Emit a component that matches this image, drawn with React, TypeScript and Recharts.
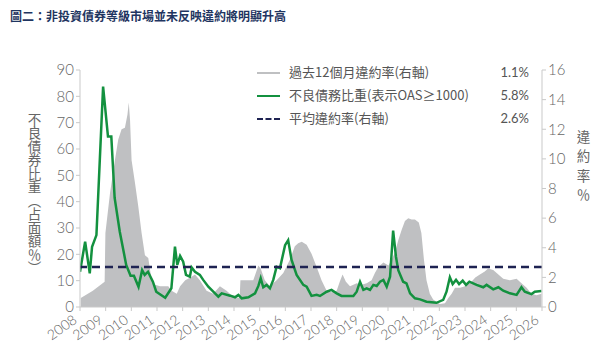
import React from 'react';
import { ComposedChart, Area, Line, XAxis, YAxis, ReferenceLine } from 'recharts';

const defaultYears = [2008.03, 2008.5, 2008.96, 2008.99, 2009.17, 2009.36, 2009.49, 2009.62, 2009.75, 2009.85, 2009.9, 2009.95, 2010.01, 2010.14, 2010.27, 2010.4, 2010.53, 2010.66, 2010.79, 2010.92, 2011.12, 2011.44, 2011.57, 2011.77, 2011.9, 2012.1, 2012.3, 2012.48, 2012.67, 2012.93, 2013.19, 2013.45, 2013.71, 2013.97, 2014.22, 2014.25, 2014.49, 2014.75, 2014.95, 2015.04, 2015.2, 2015.4, 2015.66, 2015.92, 2016.18, 2016.37, 2016.5, 2016.64, 2016.83, 2017.02, 2017.22, 2017.41, 2017.61, 2017.8, 2018.0, 2018.12, 2018.23, 2018.36, 2018.52, 2018.78, 2018.97, 2019.17, 2019.36, 2019.49, 2019.62, 2019.82, 2020.02, 2020.15, 2020.27, 2020.4, 2020.53, 2020.66, 2020.79, 2020.92, 2021.05, 2021.2, 2021.3, 2021.4, 2021.5, 2021.63, 2021.76, 2022.02, 2022.22, 2022.35, 2022.48, 2022.61, 2022.81, 2023.0, 2023.2, 2023.4, 2023.58, 2023.77, 2023.9, 2024.1, 2024.3, 2024.49, 2024.75, 2025.01, 2025.2, 2025.4, 2025.59, 2025.79, 2025.98];
const defaultRate = [0.6, 1.1, 1.7, 5.0, 7.7, 9.9, 11.3, 12.0, 12.1, 13.0, 13.8, 12.6, 9.9, 8.4, 6.8, 5.0, 3.5, 3.3, 1.8, 1.5, 1.4, 1.4, 1.1, 0.9, 1.4, 1.8, 2.0, 2.2, 1.8, 1.1, 0.9, 1.4, 1.1, 0.7, 0.6, 1.8, 1.8, 1.8, 2.8, 2.6, 1.8, 1.4, 1.8, 2.3, 3.2, 4.1, 4.3, 4.4, 4.2, 3.6, 2.7, 1.8, 1.1, 1.0, 1.1, 1.7, 2.2, 1.7, 1.4, 1.6, 1.5, 1.6, 1.8, 2.3, 2.7, 3.0, 2.8, 3.2, 3.7, 4.5, 5.2, 5.8, 6.0, 5.9, 5.9, 5.7, 5.0, 3.2, 1.8, 0.9, 0.5, 0.2, 0.25, 0.6, 0.9, 1.3, 1.3, 1.4, 1.6, 2.0, 2.2, 2.4, 2.6, 2.5, 2.2, 1.9, 1.8, 1.9, 1.6, 1.3, 0.9, 0.8, 0.9];

const distressYears = [2008.0, 2008.2, 2008.38, 2008.47, 2008.64, 2008.9, 2009.09, 2009.22, 2009.35, 2009.55, 2009.8, 2009.97, 2010.1, 2010.28, 2010.42, 2010.52, 2010.65, 2010.84, 2010.97, 2011.32, 2011.56, 2011.7, 2011.79, 2011.9, 2012.02, 2012.13, 2012.28, 2012.35, 2012.48, 2012.67, 2012.8, 2013.0, 2013.26, 2013.39, 2013.52, 2013.85, 2014.04, 2014.17, 2014.3, 2014.56, 2014.82, 2014.95, 2015.04, 2015.14, 2015.27, 2015.4, 2015.53, 2015.66, 2015.79, 2015.99, 2016.11, 2016.24, 2016.44, 2016.7, 2016.83, 2017.02, 2017.22, 2017.35, 2017.61, 2017.8, 2018.0, 2018.19, 2018.65, 2018.78, 2018.91, 2019.04, 2019.17, 2019.3, 2019.43, 2019.56, 2019.69, 2019.82, 2019.95, 2020.08, 2020.2, 2020.31, 2020.4, 2020.59, 2020.72, 2020.86, 2021.05, 2021.25, 2021.5, 2021.89, 2022.15, 2022.28, 2022.41, 2022.52, 2022.65, 2022.77, 2022.91, 2023.04, 2023.17, 2023.45, 2023.71, 2023.84, 2024.1, 2024.3, 2024.49, 2024.75, 2025.01, 2025.2, 2025.33, 2025.59, 2025.72, 2025.98];
const distressRatio = [13.4, 24.8, 12.8, 22.9, 27.3, 83.7, 64.7, 64.7, 41.4, 28.6, 16, 11.9, 11.9, 7.7, 14, 12.2, 13.4, 9.6, 5.8, 3.5, 7.1, 22.9, 16, 19.4, 17.2, 12.2, 11.5, 15, 13.4, 12.2, 10.3, 7.7, 5.2, 3.9, 5.2, 4.3, 3.7, 4.6, 3.3, 3.7, 5.2, 8, 10.9, 7.5, 8.4, 7.1, 10.3, 15.3, 14.7, 23.5, 25.4, 18, 12.2, 8.4, 7.7, 4.2, 4.6, 4.2, 5.8, 6.5, 5.2, 4.2, 4.2, 5.8, 9.6, 6.5, 7.1, 6.5, 8.4, 8, 9.6, 10.3, 7.7, 11.5, 29, 19.1, 14, 9.6, 9, 5.2, 3.3, 2.9, 2.0, 1.6, 2.7, 5.8, 11.3, 8.7, 10.3, 8.7, 10, 8.4, 9.6, 8.4, 7.5, 8.4, 6.7, 7.5, 6.2, 5.2, 4.6, 7.5, 5.8, 4.9, 5.8, 6.1];

const averageDefault = 2.7;
const yearTicks = [2008, 2009, 2010, 2011, 2012, 2013, 2014, 2015, 2016, 2017, 2018, 2019, 2020, 2021, 2022, 2023, 2024, 2025, 2026];
const leftTicks = [0, 10, 20, 30, 40, 50, 60, 70, 80, 90];
const rightTicks = [0, 2, 4, 6, 8, 10, 12, 14, 16];

const legendLabels = ['過去12個月違約率(右軸)', '不良債務比重(表示OAS≥1000)', '平均違約率(右軸)'];
const legendValues = ['1.1%', '5.8%', '2.6%'];

const title = '圖二：非投資債券等級市場並未反映違約將明顯升高';
const leftLabel = '不良債券比重（占面額％）';
const rightLabel = '違約率％';

const rowMap = new Map<number, any>();
defaultYears.forEach((y, i) => {
  rowMap.set(y, { ...(rowMap.get(y) || { x: y }), g: defaultRate[i] });
});
distressYears.forEach((y, i) => {
  rowMap.set(y, { ...(rowMap.get(y) || { x: y }), d: distressRatio[i] });
});
const data = Array.from(rowMap.values()).sort((a, b) => a.x - b.x);

const GRAY = '#bfc0c2';
const GREEN = '#13913f';
const NAVY = '#1e2352';
const AXIS = '#c9c9c9';
const TICKTEXT = '#666666';
const FONT = 'Lato, "Noto Sans", sans-serif';
const CJK = '"Noto Sans CJK TC", "Noto Sans CJK SC", sans-serif';

const XTick = (props: any) => {
  const { x, y, payload } = props;
  return (
    <g transform={`translate(${x - 2},${y + 9})`}>
      <text x={0} y={0} textAnchor="end" transform="rotate(-35)" fill={TICKTEXT} fontSize={14} fontFamily={FONT} fontWeight={300}>
        {payload.value}
      </text>
    </g>
  );
};

export default function App() {
  return (
    <div style={{ position: 'absolute', left: 0, top: 0, width: 603, height: 354, background: '#fff', overflow: 'hidden' }}>
      <ComposedChart width={603} height={354} data={data} margin={{ top: 70, right: 0, bottom: 0, left: 0 }}>
        <XAxis
          dataKey="x"
          type="number"
          domain={[2008, 2026]}
          ticks={yearTicks}
          interval={0}
          height={47}
          stroke={AXIS}
          tickSize={4}
          tick={<XTick />}
          allowDataOverflow
        />
        <YAxis
          yAxisId="left"
          orientation="left"
          width={80}
          domain={[0, 90]}
          ticks={leftTicks}
          interval={0}
          stroke={AXIS}
          tickSize={4}
          tick={{ fill: TICKTEXT, fontSize: 15, fontFamily: FONT, fontWeight: 300 }}
        />
        <YAxis
          yAxisId="right"
          orientation="right"
          width={61}
          domain={[0, 16]}
          ticks={rightTicks}
          interval={0}
          stroke={AXIS}
          tickSize={4}
          tick={{ fill: TICKTEXT, fontSize: 15, fontFamily: FONT, fontWeight: 300 }}
        />
        <Area
          yAxisId="right"
          dataKey="g"
          type="linear"
          stroke="none"
          fill={GRAY}
          fillOpacity={1}
          connectNulls
          isAnimationActive={false}
          dot={false}
          activeDot={false}
        />
        <Line
          yAxisId="left"
          dataKey="d"
          type="linear"
          stroke={GREEN}
          strokeWidth={2.5}
          connectNulls
          dot={false}
          activeDot={false}
          isAnimationActive={false}
        />
        <ReferenceLine yAxisId="right" y={averageDefault} stroke={NAVY} strokeWidth={2.5} strokeDasharray="8 5" />
      </ComposedChart>

      <div style={{ position: 'absolute', left: 10, top: 7, fontFamily: CJK, fontSize: 12, fontWeight: 700, color: '#1f3561', whiteSpace: 'nowrap' }}>
        {title}
      </div>

      <div style={{ position: 'absolute', left: 27, top: 113, writingMode: 'vertical-rl', fontFamily: CJK, fontSize: 13.5, color: '#666', lineHeight: 1, whiteSpace: 'nowrap' }}>
        {leftLabel}
      </div>
      <div style={{ position: 'absolute', left: 576, top: 130, writingMode: 'vertical-rl', fontFamily: CJK, fontSize: 13.5, color: '#666', lineHeight: 1, letterSpacing: 6, whiteSpace: 'nowrap' }}>
        {rightLabel}
      </div>

      {legendLabels.map((label, i) => (
        <div key={label} style={{ position: 'absolute', left: 257, top: 63 + i * 23, width: 272, height: 18, fontFamily: CJK, fontSize: 13, color: '#555', whiteSpace: 'nowrap' }}>
          <div style={{ position: 'absolute', left: 0, top: 9, width: 23, height: 0, borderTop: i === 0 ? `2px solid ${GRAY}` : i === 1 ? `2.5px solid ${GREEN}` : `2.5px dashed ${NAVY}` }} />
          <div style={{ position: 'absolute', left: 32, top: 0, lineHeight: '18px' }}>{label}</div>
          <div style={{ position: 'absolute', right: 0, top: 0, lineHeight: '18px', fontFamily: FONT, fontWeight: 400 }}>{legendValues[i]}</div>
        </div>
      ))}
    </div>
  );
}
